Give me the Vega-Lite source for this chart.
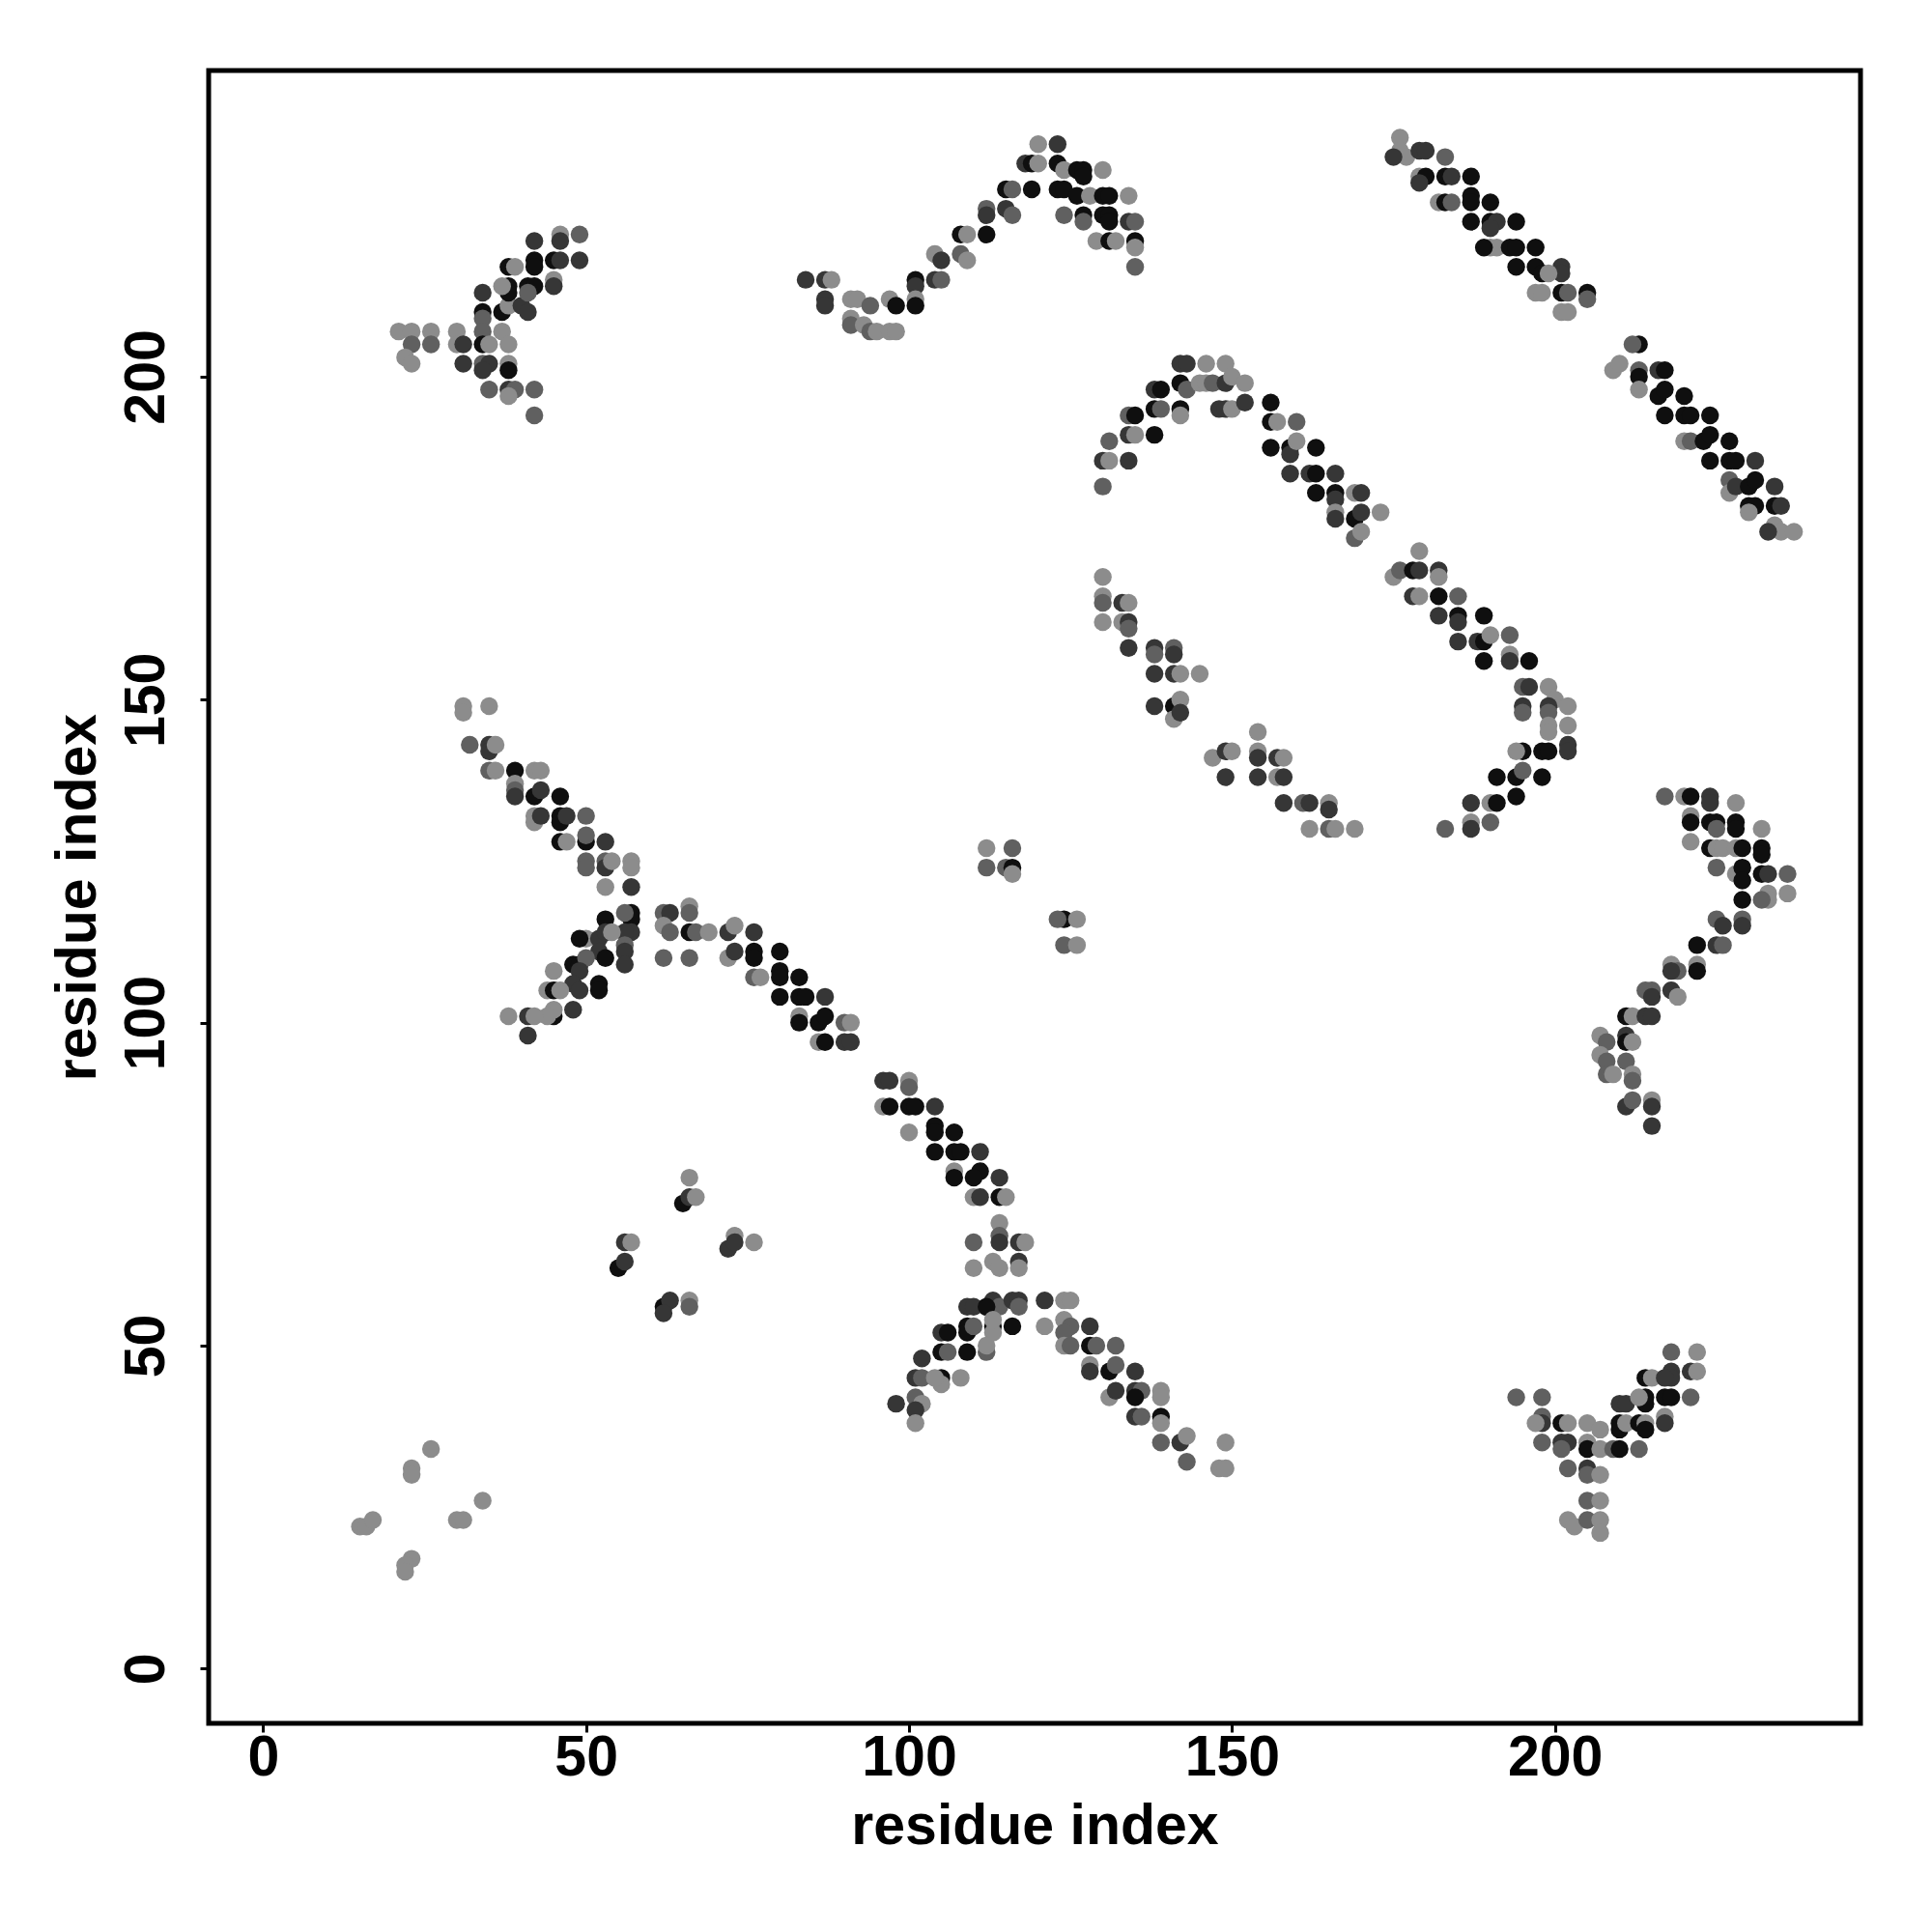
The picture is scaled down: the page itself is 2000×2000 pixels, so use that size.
{
"$schema":"https://vega.github.io/schema/vega-lite/v6.json",
"autosize":{"type":"none"},
"padding":{"left":216,"top":73,"right":74,"bottom":216},
"width":1710,"height":1711,
"background":"white",
"config":{"view":{"stroke":"black","strokeWidth":5},
"axis":{"domain":false,"grid":false,"tickColor":"black","tickWidth":3,"tickSize":9,"labelFont":"Liberation Sans","labelFontWeight":"bold","labelFontSize":59,"labelColor":"black","titleFont":"Liberation Sans","titleFontWeight":"bold","titleFontSize":59,"titleColor":"black","labelBaseline":"alphabetic","titleBaseline":"alphabetic"}},
"data":{"values":[
{"x":21,"y":207,"g":"L"},{"x":23,"y":207,"g":"L"},{"x":26,"y":207,"g":"L"},{"x":30,"y":207,"g":"L"},{"x":23,"y":205,"g":"M"},{"x":26,"y":205,"g":"M"},{"x":22,"y":203,"g":"L"},{"x":23,"y":202,"g":"L"},{"x":30,"y":205,"g":"L"},{"x":31,"y":205,"g":"D"},{"x":34,"y":213,"g":"D"},{"x":34,"y":210,"g":"B"},{"x":34,"y":209,"g":"M"},{"x":34,"y":207,"g":"M"},{"x":34,"y":205,"g":"B"},{"x":35,"y":205,"g":"L"},{"x":31,"y":202,"g":"D"},{"x":34,"y":202,"g":"M"},{"x":35,"y":202,"g":"D"},{"x":34,"y":201,"g":"D"},{"x":37,"y":207,"g":"L"},{"x":38,"y":205,"g":"L"},{"x":38,"y":202,"g":"L"},{"x":38,"y":201,"g":"B"},{"x":35,"y":198,"g":"M"},{"x":38,"y":198,"g":"D"},{"x":39,"y":198,"g":"M"},{"x":38,"y":197,"g":"L"},{"x":42,"y":198,"g":"M"},{"x":42,"y":194,"g":"M"},{"x":37,"y":210,"g":"B"},{"x":38,"y":211,"g":"L"},{"x":40,"y":211,"g":"D"},{"x":41,"y":210,"g":"D"},{"x":38,"y":214,"g":"B"},{"x":38,"y":213,"g":"B"},{"x":37,"y":214,"g":"L"},{"x":41,"y":214,"g":"B"},{"x":42,"y":214,"g":"B"},{"x":41,"y":213,"g":"M"},{"x":38,"y":217,"g":"B"},{"x":39,"y":217,"g":"L"},{"x":42,"y":218,"g":"B"},{"x":42,"y":217,"g":"B"},{"x":45,"y":218,"g":"B"},{"x":46,"y":218,"g":"D"},{"x":45,"y":215,"g":"L"},{"x":45,"y":214,"g":"D"},{"x":49,"y":218,"g":"D"},{"x":42,"y":221,"g":"D"},{"x":46,"y":222,"g":"L"},{"x":46,"y":221,"g":"D"},{"x":49,"y":222,"g":"M"},
{"x":84,"y":215,"g":"D"},{"x":87,"y":215,"g":"D"},{"x":88,"y":215,"g":"L"},{"x":87,"y":212,"g":"D"},{"x":87,"y":211,"g":"D"},{"x":91,"y":212,"g":"L"},{"x":92,"y":212,"g":"L"},{"x":94,"y":211,"g":"M"},{"x":91,"y":209,"g":"L"},{"x":91,"y":208,"g":"M"},{"x":93,"y":208,"g":"L"},{"x":94,"y":207,"g":"M"},{"x":95,"y":207,"g":"L"},{"x":97,"y":207,"g":"L"},{"x":98,"y":207,"g":"L"},{"x":97,"y":212,"g":"L"},{"x":98,"y":211,"g":"B"},{"x":101,"y":215,"g":"B"},{"x":101,"y":214,"g":"D"},{"x":101,"y":212,"g":"L"},{"x":101,"y":211,"g":"B"},{"x":104,"y":215,"g":"D"},{"x":105,"y":215,"g":"M"},{"x":104,"y":219,"g":"L"},{"x":105,"y":218,"g":"D"},{"x":108,"y":219,"g":"M"},{"x":109,"y":218,"g":"L"},{"x":108,"y":222,"g":"B"},{"x":109,"y":222,"g":"L"},{"x":112,"y":222,"g":"B"},{"x":112,"y":226,"g":"M"},{"x":112,"y":225,"g":"D"},{"x":115,"y":226,"g":"D"},{"x":116,"y":225,"g":"M"},{"x":115,"y":229,"g":"B"},{"x":116,"y":229,"g":"M"},{"x":119,"y":229,"g":"B"},{"x":118,"y":233,"g":"D"},{"x":119,"y":233,"g":"B"},{"x":120,"y":233,"g":"L"},{"x":120,"y":236,"g":"L"},{"x":123,"y":236,"g":"D"},{"x":123,"y":233,"g":"B"},{"x":124,"y":232,"g":"L"},{"x":123,"y":229,"g":"B"},{"x":124,"y":229,"g":"B"},{"x":124,"y":225,"g":"M"},{"x":126,"y":232,"g":"B"},{"x":127,"y":232,"g":"B"},{"x":130,"y":232,"g":"L"},{"x":127,"y":231,"g":"B"},{"x":126,"y":228,"g":"B"},{"x":128,"y":228,"g":"L"},{"x":130,"y":228,"g":"B"},{"x":131,"y":228,"g":"B"},{"x":134,"y":228,"g":"L"},{"x":127,"y":225,"g":"B"},{"x":127,"y":224,"g":"M"},{"x":130,"y":225,"g":"B"},{"x":131,"y":225,"g":"B"},{"x":131,"y":224,"g":"B"},{"x":129,"y":221,"g":"L"},{"x":131,"y":221,"g":"B"},{"x":132,"y":221,"g":"L"},{"x":134,"y":224,"g":"D"},{"x":135,"y":224,"g":"M"},{"x":135,"y":221,"g":"B"},{"x":135,"y":220,"g":"L"},{"x":135,"y":217,"g":"M"},
{"x":176,"y":237,"g":"L"},{"x":176,"y":235,"g":"L"},{"x":177,"y":234,"g":"L"},{"x":175,"y":234,"g":"D"},{"x":179,"y":235,"g":"D"},{"x":180,"y":235,"g":"D"},{"x":183,"y":234,"g":"M"},{"x":179,"y":231,"g":"L"},{"x":180,"y":231,"g":"B"},{"x":183,"y":231,"g":"B"},{"x":184,"y":231,"g":"D"},{"x":187,"y":231,"g":"B"},{"x":179,"y":230,"g":"D"},{"x":182,"y":227,"g":"L"},{"x":183,"y":227,"g":"B"},{"x":184,"y":227,"g":"M"},{"x":187,"y":228,"g":"B"},{"x":187,"y":227,"g":"B"},{"x":190,"y":227,"g":"B"},{"x":187,"y":224,"g":"B"},{"x":190,"y":224,"g":"B"},{"x":191,"y":224,"g":"D"},{"x":194,"y":224,"g":"B"},{"x":190,"y":223,"g":"D"},{"x":190,"y":220,"g":"L"},{"x":191,"y":220,"g":"L"},{"x":189,"y":220,"g":"B"},{"x":193,"y":220,"g":"B"},{"x":194,"y":220,"g":"B"},{"x":197,"y":220,"g":"B"},{"x":194,"y":217,"g":"B"},{"x":197,"y":217,"g":"B"},{"x":198,"y":216,"g":"B"},{"x":201,"y":217,"g":"D"},{"x":201,"y":216,"g":"D"},{"x":199,"y":216,"g":"L"},{"x":197,"y":213,"g":"L"},{"x":198,"y":213,"g":"L"},{"x":201,"y":213,"g":"B"},{"x":202,"y":213,"g":"M"},{"x":205,"y":213,"g":"B"},{"x":205,"y":212,"g":"M"},{"x":201,"y":210,"g":"L"},{"x":202,"y":210,"g":"L"},
{"x":213,"y":205,"g":"B"},{"x":212,"y":205,"g":"M"},{"x":209,"y":201,"g":"L"},{"x":210,"y":202,"g":"L"},{"x":213,"y":201,"g":"M"},{"x":213,"y":200,"g":"B"},{"x":213,"y":198,"g":"L"},{"x":216,"y":201,"g":"D"},{"x":217,"y":201,"g":"B"},{"x":216,"y":197,"g":"B"},{"x":217,"y":198,"g":"B"},{"x":220,"y":197,"g":"B"},{"x":217,"y":194,"g":"B"},{"x":220,"y":194,"g":"B"},{"x":221,"y":194,"g":"B"},{"x":224,"y":194,"g":"B"},{"x":220,"y":190,"g":"L"},{"x":221,"y":190,"g":"M"},{"x":223,"y":190,"g":"B"},{"x":224,"y":191,"g":"B"},{"x":227,"y":190,"g":"B"},{"x":224,"y":187,"g":"B"},{"x":227,"y":187,"g":"B"},{"x":228,"y":187,"g":"B"},{"x":231,"y":187,"g":"D"},{"x":227,"y":184,"g":"M"},{"x":227,"y":182,"g":"L"},{"x":228,"y":183,"g":"D"},{"x":230,"y":183,"g":"B"},{"x":231,"y":184,"g":"B"},{"x":234,"y":183,"g":"D"},{"x":230,"y":180,"g":"B"},{"x":231,"y":180,"g":"B"},{"x":234,"y":180,"g":"B"},{"x":235,"y":180,"g":"D"},{"x":230,"y":179,"g":"L"},{"x":234,"y":177,"g":"L"},{"x":235,"y":176,"g":"L"},{"x":237,"y":176,"g":"L"},{"x":233,"y":176,"g":"D"},
{"x":142,"y":202,"g":"D"},{"x":143,"y":202,"g":"D"},{"x":146,"y":202,"g":"L"},{"x":149,"y":202,"g":"L"},{"x":138,"y":198,"g":"D"},{"x":139,"y":198,"g":"B"},{"x":142,"y":199,"g":"B"},{"x":143,"y":198,"g":"M"},{"x":145,"y":199,"g":"L"},{"x":146,"y":199,"g":"L"},{"x":147,"y":199,"g":"M"},{"x":149,"y":199,"g":"D"},{"x":150,"y":200,"g":"L"},{"x":152,"y":199,"g":"L"},{"x":134,"y":194,"g":"M"},{"x":135,"y":194,"g":"B"},{"x":138,"y":195,"g":"B"},{"x":139,"y":195,"g":"M"},{"x":142,"y":195,"g":"B"},{"x":142,"y":194,"g":"L"},{"x":148,"y":195,"g":"D"},{"x":149,"y":195,"g":"D"},{"x":150,"y":195,"g":"L"},{"x":152,"y":196,"g":"D"},{"x":134,"y":191,"g":"D"},{"x":135,"y":191,"g":"L"},{"x":138,"y":191,"g":"B"},{"x":131,"y":190,"g":"M"},{"x":130,"y":187,"g":"D"},{"x":131,"y":187,"g":"L"},{"x":134,"y":187,"g":"D"},{"x":130,"y":183,"g":"M"},{"x":156,"y":196,"g":"B"},{"x":156,"y":193,"g":"B"},{"x":157,"y":193,"g":"L"},{"x":160,"y":193,"g":"M"},{"x":156,"y":189,"g":"B"},{"x":159,"y":189,"g":"B"},{"x":159,"y":188,"g":"D"},{"x":160,"y":190,"g":"L"},{"x":163,"y":189,"g":"B"},{"x":159,"y":185,"g":"D"},{"x":162,"y":185,"g":"D"},{"x":163,"y":185,"g":"B"},{"x":166,"y":185,"g":"D"},{"x":163,"y":182,"g":"B"},{"x":166,"y":182,"g":"B"},{"x":166,"y":181,"g":"D"},{"x":169,"y":182,"g":"L"},{"x":170,"y":182,"g":"D"},{"x":166,"y":179,"g":"L"},{"x":166,"y":178,"g":"D"},{"x":169,"y":178,"g":"B"},{"x":170,"y":179,"g":"D"},{"x":173,"y":179,"g":"L"},{"x":169,"y":175,"g":"M"},{"x":170,"y":176,"g":"L"},
{"x":130,"y":169,"g":"L"},{"x":130,"y":166,"g":"L"},{"x":130,"y":165,"g":"M"},{"x":133,"y":165,"g":"D"},{"x":134,"y":165,"g":"L"},{"x":130,"y":162,"g":"L"},{"x":133,"y":162,"g":"L"},{"x":134,"y":162,"g":"D"},{"x":134,"y":161,"g":"M"},{"x":134,"y":158,"g":"D"},{"x":138,"y":158,"g":"D"},{"x":138,"y":157,"g":"M"},{"x":141,"y":158,"g":"M"},{"x":141,"y":157,"g":"D"},{"x":138,"y":154,"g":"D"},{"x":141,"y":154,"g":"D"},{"x":142,"y":154,"g":"L"},{"x":145,"y":154,"g":"L"},{"x":138,"y":149,"g":"D"},{"x":141,"y":149,"g":"B"},{"x":142,"y":150,"g":"L"},{"x":141,"y":147,"g":"L"},{"x":142,"y":148,"g":"D"},{"x":154,"y":145,"g":"L"},{"x":147,"y":141,"g":"L"},{"x":149,"y":142,"g":"D"},{"x":150,"y":142,"g":"L"},{"x":149,"y":138,"g":"D"},{"x":154,"y":142,"g":"L"},{"x":154,"y":141,"g":"D"},{"x":157,"y":141,"g":"D"},{"x":158,"y":141,"g":"L"},{"x":154,"y":138,"g":"D"},{"x":157,"y":138,"g":"L"},{"x":158,"y":138,"g":"D"},{"x":158,"y":134,"g":"D"},{"x":161,"y":134,"g":"M"},{"x":162,"y":134,"g":"D"},{"x":165,"y":134,"g":"L"},{"x":165,"y":133,"g":"D"},{"x":162,"y":130,"g":"L"},{"x":165,"y":130,"g":"M"},{"x":166,"y":130,"g":"L"},{"x":169,"y":130,"g":"L"},
{"x":179,"y":173,"g":"L"},{"x":175,"y":169,"g":"L"},{"x":176,"y":170,"g":"M"},{"x":178,"y":170,"g":"B"},{"x":179,"y":170,"g":"D"},{"x":182,"y":170,"g":"D"},{"x":182,"y":169,"g":"L"},{"x":178,"y":166,"g":"D"},{"x":179,"y":166,"g":"L"},{"x":182,"y":166,"g":"B"},{"x":185,"y":166,"g":"M"},{"x":182,"y":163,"g":"D"},{"x":185,"y":163,"g":"B"},{"x":185,"y":162,"g":"D"},{"x":189,"y":163,"g":"B"},{"x":185,"y":159,"g":"D"},{"x":188,"y":159,"g":"D"},{"x":189,"y":159,"g":"B"},{"x":190,"y":160,"g":"L"},{"x":193,"y":160,"g":"M"},{"x":189,"y":156,"g":"B"},{"x":193,"y":157,"g":"L"},{"x":193,"y":156,"g":"D"},{"x":196,"y":156,"g":"B"},{"x":195,"y":152,"g":"M"},{"x":196,"y":152,"g":"D"},{"x":199,"y":152,"g":"L"},{"x":200,"y":150,"g":"L"},{"x":202,"y":149,"g":"L"},{"x":195,"y":149,"g":"D"},{"x":195,"y":148,"g":"M"},{"x":199,"y":149,"g":"D"},{"x":199,"y":148,"g":"M"},{"x":199,"y":146,"g":"L"},{"x":199,"y":145,"g":"L"},{"x":202,"y":146,"g":"L"},{"x":195,"y":142,"g":"B"},{"x":194,"y":142,"g":"L"},{"x":198,"y":142,"g":"B"},{"x":199,"y":142,"g":"B"},{"x":202,"y":143,"g":"D"},{"x":202,"y":142,"g":"D"},{"x":191,"y":138,"g":"B"},{"x":194,"y":138,"g":"B"},{"x":195,"y":139,"g":"M"},{"x":198,"y":138,"g":"B"},{"x":187,"y":134,"g":"D"},{"x":190,"y":134,"g":"L"},{"x":191,"y":134,"g":"B"},{"x":194,"y":135,"g":"B"},{"x":183,"y":130,"g":"M"},{"x":187,"y":131,"g":"L"},{"x":187,"y":130,"g":"D"},{"x":190,"y":131,"g":"M"},
{"x":217,"y":135,"g":"M"},{"x":220,"y":135,"g":"L"},{"x":221,"y":135,"g":"B"},{"x":224,"y":135,"g":"D"},{"x":224,"y":134,"g":"D"},{"x":228,"y":134,"g":"L"},{"x":221,"y":132,"g":"L"},{"x":221,"y":131,"g":"B"},{"x":224,"y":131,"g":"B"},{"x":225,"y":131,"g":"B"},{"x":225,"y":130,"g":"M"},{"x":228,"y":131,"g":"B"},{"x":228,"y":130,"g":"B"},{"x":232,"y":130,"g":"L"},{"x":221,"y":128,"g":"L"},{"x":224,"y":127,"g":"B"},{"x":225,"y":127,"g":"L"},{"x":226,"y":127,"g":"L"},{"x":228,"y":127,"g":"L"},{"x":229,"y":127,"g":"B"},{"x":232,"y":127,"g":"B"},{"x":232,"y":126,"g":"B"},{"x":225,"y":124,"g":"M"},{"x":228,"y":123,"g":"L"},{"x":229,"y":124,"g":"B"},{"x":229,"y":122,"g":"B"},{"x":232,"y":123,"g":"B"},{"x":233,"y":123,"g":"D"},{"x":236,"y":123,"g":"M"},{"x":229,"y":119,"g":"B"},{"x":233,"y":120,"g":"L"},{"x":233,"y":119,"g":"L"},{"x":232,"y":119,"g":"M"},{"x":236,"y":120,"g":"L"},{"x":225,"y":116,"g":"M"},{"x":226,"y":115,"g":"D"},{"x":229,"y":116,"g":"M"},{"x":229,"y":115,"g":"D"},{"x":222,"y":112,"g":"B"},{"x":222,"y":109,"g":"L"},{"x":222,"y":108,"g":"B"},{"x":225,"y":112,"g":"D"},{"x":226,"y":112,"g":"M"},{"x":218,"y":109,"g":"L"},{"x":219,"y":108,"g":"M"},{"x":218,"y":108,"g":"D"},{"x":214,"y":105,"g":"M"},{"x":215,"y":105,"g":"M"},{"x":215,"y":104,"g":"D"},{"x":218,"y":105,"g":"D"},{"x":219,"y":104,"g":"L"},{"x":211,"y":101,"g":"B"},{"x":212,"y":101,"g":"L"},{"x":214,"y":101,"g":"D"},{"x":215,"y":101,"g":"D"},{"x":211,"y":98,"g":"D"},{"x":211,"y":97,"g":"B"},{"x":212,"y":97,"g":"L"},{"x":207,"y":98,"g":"L"},{"x":208,"y":97,"g":"M"},{"x":207,"y":95,"g":"L"},{"x":208,"y":94,"g":"M"},{"x":211,"y":94,"g":"M"},{"x":208,"y":92,"g":"M"},{"x":209,"y":92,"g":"L"},{"x":212,"y":92,"g":"L"},{"x":212,"y":91,"g":"M"},{"x":211,"y":87,"g":"D"},{"x":212,"y":88,"g":"M"},{"x":215,"y":88,"g":"L"},{"x":215,"y":87,"g":"D"},{"x":215,"y":84,"g":"D"},
{"x":31,"y":149,"g":"L"},{"x":31,"y":148,"g":"L"},{"x":35,"y":149,"g":"L"},{"x":32,"y":143,"g":"M"},{"x":35,"y":143,"g":"D"},{"x":35,"y":142,"g":"D"},{"x":36,"y":143,"g":"L"},{"x":35,"y":139,"g":"M"},{"x":36,"y":139,"g":"L"},{"x":39,"y":139,"g":"B"},{"x":42,"y":139,"g":"L"},{"x":43,"y":139,"g":"L"},{"x":39,"y":137,"g":"L"},{"x":39,"y":136,"g":"M"},{"x":39,"y":135,"g":"D"},{"x":42,"y":135,"g":"B"},{"x":43,"y":136,"g":"D"},{"x":46,"y":135,"g":"B"},{"x":42,"y":132,"g":"L"},{"x":42,"y":131,"g":"L"},{"x":43,"y":132,"g":"D"},{"x":46,"y":132,"g":"B"},{"x":46,"y":131,"g":"B"},{"x":47,"y":132,"g":"D"},{"x":50,"y":132,"g":"M"},{"x":46,"y":128,"g":"B"},{"x":47,"y":128,"g":"L"},{"x":50,"y":128,"g":"B"},{"x":50,"y":129,"g":"M"},{"x":53,"y":128,"g":"D"},{"x":50,"y":125,"g":"M"},{"x":50,"y":124,"g":"M"},{"x":53,"y":125,"g":"M"},{"x":53,"y":124,"g":"D"},{"x":54,"y":125,"g":"L"},{"x":57,"y":125,"g":"L"},{"x":57,"y":124,"g":"L"},{"x":53,"y":121,"g":"L"},{"x":57,"y":121,"g":"D"},{"x":57,"y":117,"g":"B"},{"x":57,"y":116,"g":"B"},{"x":56,"y":117,"g":"M"},{"x":53,"y":116,"g":"B"},{"x":62,"y":117,"g":"M"},{"x":63,"y":117,"g":"D"},{"x":62,"y":115,"g":"L"},{"x":63,"y":114,"g":"M"},{"x":62,"y":110,"g":"M"},{"x":57,"y":114,"g":"D"},{"x":56,"y":114,"g":"D"},{"x":56,"y":112,"g":"M"},{"x":50,"y":113,"g":"L"},{"x":49,"y":113,"g":"B"},{"x":52,"y":113,"g":"D"},{"x":53,"y":114,"g":"D"},{"x":54,"y":114,"g":"L"},{"x":52,"y":111,"g":"D"},{"x":53,"y":110,"g":"B"},{"x":56,"y":111,"g":"D"},{"x":56,"y":109,"g":"D"},{"x":48,"y":109,"g":"B"},{"x":49,"y":109,"g":"B"},{"x":50,"y":110,"g":"M"},{"x":49,"y":108,"g":"D"},{"x":45,"y":108,"g":"L"},{"x":48,"y":106,"g":"D"},{"x":49,"y":105,"g":"D"},{"x":52,"y":106,"g":"B"},{"x":52,"y":105,"g":"B"},{"x":44,"y":105,"g":"L"},{"x":45,"y":105,"g":"B"},{"x":46,"y":105,"g":"L"},{"x":48,"y":102,"g":"D"},{"x":45,"y":101,"g":"B"},{"x":45,"y":102,"g":"L"},{"x":44,"y":101,"g":"L"},{"x":41,"y":101,"g":"D"},{"x":42,"y":101,"g":"L"},{"x":38,"y":101,"g":"L"},{"x":41,"y":98,"g":"D"},
{"x":112,"y":127,"g":"L"},{"x":116,"y":127,"g":"M"},{"x":112,"y":124,"g":"M"},{"x":115,"y":124,"g":"M"},{"x":116,"y":124,"g":"B"},{"x":116,"y":123,"g":"L"},{"x":124,"y":116,"g":"B"},{"x":123,"y":116,"g":"M"},{"x":126,"y":116,"g":"L"},{"x":124,"y":112,"g":"M"},{"x":126,"y":112,"g":"L"},
{"x":66,"y":118,"g":"L"},{"x":66,"y":117,"g":"M"},{"x":66,"y":114,"g":"B"},{"x":67,"y":114,"g":"M"},{"x":69,"y":114,"g":"L"},{"x":66,"y":110,"g":"M"},
{"x":72,"y":114,"g":"D"},{"x":73,"y":115,"g":"L"},{"x":76,"y":114,"g":"D"},{"x":72,"y":110,"g":"L"},{"x":73,"y":111,"g":"D"},{"x":76,"y":111,"g":"B"},{"x":76,"y":110,"g":"B"},{"x":80,"y":111,"g":"B"},{"x":76,"y":107,"g":"M"},{"x":77,"y":107,"g":"L"},{"x":80,"y":108,"g":"B"},{"x":80,"y":107,"g":"B"},{"x":83,"y":107,"g":"B"},{"x":80,"y":104,"g":"B"},{"x":83,"y":104,"g":"B"},{"x":84,"y":104,"g":"B"},{"x":87,"y":104,"g":"D"},{"x":83,"y":101,"g":"L"},{"x":83,"y":100,"g":"B"},{"x":86,"y":100,"g":"B"},{"x":87,"y":101,"g":"B"},{"x":90,"y":100,"g":"M"},{"x":91,"y":100,"g":"L"},{"x":86,"y":97,"g":"L"},{"x":87,"y":97,"g":"B"},{"x":90,"y":97,"g":"D"},{"x":91,"y":97,"g":"D"},{"x":96,"y":91,"g":"D"},{"x":97,"y":91,"g":"D"},{"x":100,"y":91,"g":"L"},{"x":100,"y":90,"g":"M"},{"x":96,"y":87,"g":"L"},{"x":97,"y":87,"g":"B"},{"x":100,"y":87,"g":"B"},{"x":101,"y":87,"g":"B"},{"x":104,"y":87,"g":"D"},{"x":100,"y":83,"g":"L"},{"x":104,"y":84,"g":"B"},{"x":104,"y":83,"g":"B"},{"x":107,"y":83,"g":"B"},{"x":104,"y":80,"g":"B"},{"x":107,"y":80,"g":"B"},{"x":108,"y":80,"g":"B"},{"x":111,"y":80,"g":"D"},{"x":107,"y":77,"g":"L"},{"x":107,"y":76,"g":"B"},{"x":111,"y":77,"g":"B"},{"x":110,"y":76,"g":"B"},{"x":114,"y":76,"g":"D"},{"x":110,"y":73,"g":"L"},{"x":111,"y":73,"g":"D"},{"x":114,"y":73,"g":"B"},{"x":115,"y":73,"g":"L"},{"x":114,"y":69,"g":"L"},{"x":114,"y":67,"g":"M"},{"x":114,"y":66,"g":"D"},{"x":110,"y":66,"g":"M"},{"x":117,"y":66,"g":"D"},{"x":118,"y":66,"g":"L"},{"x":110,"y":62,"g":"L"},{"x":113,"y":63,"g":"L"},{"x":114,"y":62,"g":"L"},{"x":117,"y":63,"g":"D"},{"x":117,"y":62,"g":"L"},
{"x":66,"y":76,"g":"L"},{"x":65,"y":72,"g":"B"},{"x":66,"y":73,"g":"D"},{"x":67,"y":73,"g":"L"},{"x":72,"y":65,"g":"D"},{"x":73,"y":67,"g":"L"},{"x":73,"y":66,"g":"D"},{"x":76,"y":66,"g":"L"},{"x":62,"y":56,"g":"B"},{"x":63,"y":57,"g":"D"},{"x":66,"y":57,"g":"L"},{"x":66,"y":56,"g":"M"},{"x":62,"y":55,"g":"D"},
{"x":56,"y":66,"g":"D"},{"x":57,"y":66,"g":"L"},{"x":55,"y":62,"g":"B"},{"x":56,"y":63,"g":"D"},{"x":26,"y":34,"g":"L"},{"x":23,"y":31,"g":"L"},{"x":23,"y":30,"g":"L"},{"x":34,"y":26,"g":"L"},{"x":15,"y":22,"g":"L"},{"x":16,"y":22,"g":"L"},{"x":17,"y":23,"g":"L"},{"x":30,"y":23,"g":"L"},{"x":31,"y":23,"g":"L"},{"x":23,"y":17,"g":"L"},{"x":22,"y":16,"g":"L"},{"x":22,"y":15,"g":"L"},
{"x":113,"y":57,"g":"D"},{"x":114,"y":56,"g":"M"},{"x":116,"y":57,"g":"D"},{"x":117,"y":57,"g":"D"},{"x":117,"y":56,"g":"M"},{"x":121,"y":57,"g":"D"},{"x":124,"y":57,"g":"L"},{"x":125,"y":57,"g":"L"},{"x":109,"y":56,"g":"D"},{"x":110,"y":56,"g":"D"},{"x":112,"y":56,"g":"B"},{"x":109,"y":53,"g":"B"},{"x":109,"y":52,"g":"B"},{"x":110,"y":53,"g":"M"},{"x":113,"y":53,"g":"B"},{"x":113,"y":52,"g":"L"},{"x":116,"y":53,"g":"B"},{"x":113,"y":54,"g":"L"},{"x":121,"y":53,"g":"L"},{"x":124,"y":54,"g":"L"},{"x":125,"y":53,"g":"M"},{"x":124,"y":52,"g":"M"},{"x":128,"y":53,"g":"D"},{"x":105,"y":52,"g":"D"},{"x":106,"y":52,"g":"B"},{"x":105,"y":49,"g":"B"},{"x":106,"y":49,"g":"M"},{"x":109,"y":49,"g":"B"},{"x":112,"y":49,"g":"M"},{"x":112,"y":50,"g":"L"},{"x":102,"y":48,"g":"D"},{"x":124,"y":50,"g":"L"},{"x":125,"y":50,"g":"M"},{"x":128,"y":50,"g":"B"},{"x":129,"y":50,"g":"M"},{"x":132,"y":50,"g":"M"},{"x":101,"y":45,"g":"D"},{"x":102,"y":45,"g":"M"},{"x":105,"y":45,"g":"B"},{"x":105,"y":44,"g":"L"},{"x":108,"y":45,"g":"L"},{"x":104,"y":45,"g":"L"},{"x":128,"y":47,"g":"L"},{"x":128,"y":46,"g":"D"},{"x":131,"y":46,"g":"B"},{"x":132,"y":47,"g":"M"},{"x":135,"y":46,"g":"D"},{"x":98,"y":41,"g":"D"},{"x":101,"y":42,"g":"M"},{"x":102,"y":41,"g":"L"},{"x":101,"y":40,"g":"D"},{"x":101,"y":38,"g":"L"},{"x":131,"y":42,"g":"L"},{"x":132,"y":43,"g":"D"},{"x":135,"y":43,"g":"D"},{"x":136,"y":43,"g":"M"},{"x":135,"y":42,"g":"B"},{"x":139,"y":43,"g":"L"},{"x":139,"y":42,"g":"L"},{"x":135,"y":39,"g":"D"},{"x":136,"y":39,"g":"M"},{"x":139,"y":39,"g":"B"},{"x":139,"y":38,"g":"L"},{"x":139,"y":35,"g":"M"},{"x":142,"y":35,"g":"D"},{"x":143,"y":36,"g":"L"},{"x":143,"y":32,"g":"M"},{"x":149,"y":35,"g":"L"},{"x":148,"y":31,"g":"L"},{"x":149,"y":31,"g":"L"},
{"x":218,"y":49,"g":"M"},{"x":222,"y":49,"g":"L"},{"x":218,"y":46,"g":"D"},{"x":218,"y":45,"g":"D"},{"x":221,"y":46,"g":"D"},{"x":222,"y":46,"g":"L"},{"x":214,"y":45,"g":"B"},{"x":215,"y":45,"g":"L"},{"x":217,"y":45,"g":"D"},{"x":194,"y":42,"g":"M"},{"x":198,"y":42,"g":"M"},{"x":210,"y":41,"g":"D"},{"x":211,"y":41,"g":"D"},{"x":214,"y":42,"g":"B"},{"x":214,"y":41,"g":"B"},{"x":213,"y":42,"g":"L"},{"x":217,"y":42,"g":"B"},{"x":218,"y":42,"g":"B"},{"x":221,"y":42,"g":"M"},{"x":198,"y":39,"g":"M"},{"x":198,"y":38,"g":"D"},{"x":197,"y":38,"g":"L"},{"x":201,"y":38,"g":"B"},{"x":202,"y":38,"g":"L"},{"x":205,"y":38,"g":"L"},{"x":207,"y":37,"g":"L"},{"x":210,"y":38,"g":"B"},{"x":210,"y":37,"g":"B"},{"x":211,"y":38,"g":"L"},{"x":213,"y":38,"g":"B"},{"x":214,"y":38,"g":"L"},{"x":214,"y":37,"g":"B"},{"x":217,"y":39,"g":"L"},{"x":217,"y":38,"g":"D"},{"x":198,"y":35,"g":"M"},{"x":201,"y":35,"g":"D"},{"x":202,"y":35,"g":"D"},{"x":201,"y":34,"g":"M"},{"x":205,"y":35,"g":"L"},{"x":205,"y":34,"g":"B"},{"x":207,"y":34,"g":"L"},{"x":209,"y":34,"g":"M"},{"x":210,"y":34,"g":"B"},{"x":213,"y":34,"g":"M"},{"x":202,"y":31,"g":"M"},{"x":205,"y":31,"g":"D"},{"x":205,"y":30,"g":"M"},{"x":207,"y":30,"g":"L"},{"x":205,"y":26,"g":"M"},{"x":207,"y":26,"g":"L"},{"x":202,"y":23,"g":"L"},{"x":203,"y":22,"g":"L"},{"x":205,"y":23,"g":"M"},{"x":207,"y":23,"g":"L"},{"x":207,"y":21,"g":"L"}
]},
"mark":{"type":"circle","size":340,"opacity":1},
"encoding":{
"x":{"field":"x","type":"quantitative","scale":{"domain":[-8.42,247.3],"nice":false,"zero":false},"axis":{"values":[0,50,100,150,200],"title":"residue index","labelPadding":44,"titleY":124}},
"y":{"field":"y","type":"quantitative","scale":{"domain":[-8.48,247.4],"nice":false,"zero":false},"axis":{"values":[0,50,100,150,200],"title":"residue index","labelAngle":-90,"labelAlign":"center","labelPadding":38,"titleX":-118}},
"color":{"field":"g","type":"nominal","scale":{"domain":["L","M","D","B"],"range":["#8c8c8c","#606060","#363636","#0f0f0f"]},"legend":null}
}
}
